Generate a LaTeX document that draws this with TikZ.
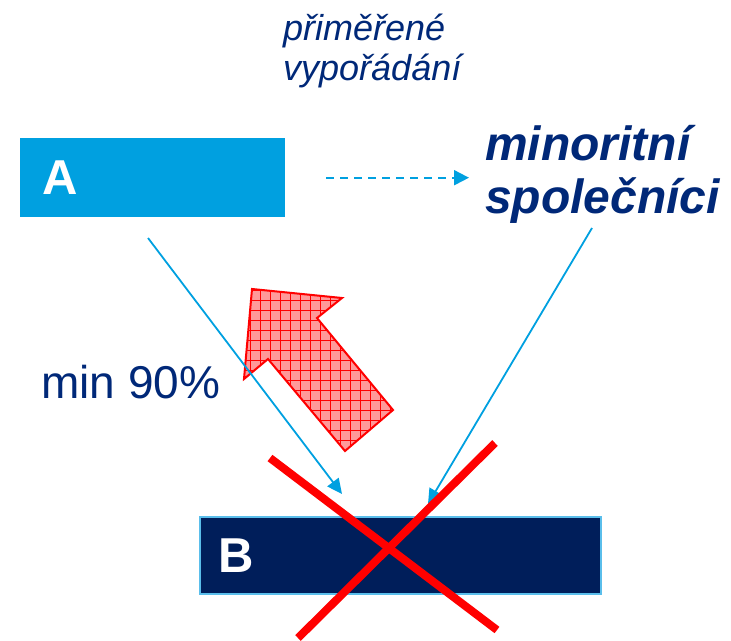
\documentclass[tikz,border=0pt]{standalone}
\usepackage{fontspec}
\setmainfont{Liberation Sans}
\usetikzlibrary{arrows.meta,patterns.meta,calc}
\definecolor{skyBlue}{RGB}{0,160,224}
\definecolor{navyBlue}{RGB}{0,30,90}
\definecolor{inkBlue}{RGB}{0,40,120}
\definecolor{edgeBlue}{RGB}{90,190,235}

\begin{document}
\begin{tikzpicture}[x=1pt,y=-1pt,
    firmbox/.style={anchor=north west,inner ysep=0pt,align=left,text=white,
        font=\bfseries\fontsize{49}{49}\selectfont},
    link/.style={skyBlue,line width=1.8pt,-{Triangle[length=15pt,width=14pt]}},
    dashlink/.style={skyBlue,line width=2pt,dash pattern=on 8pt off 6pt,
        -{Triangle[length=15pt,width=15pt]}}]
    \useasboundingbox (0,0) rectangle (731,640);

    % companies
    \node[firmbox,fill=skyBlue,minimum height=79pt,text width=221pt,inner xsep=22pt] (A) at (20,138) {A};
    \node[firmbox,fill=navyBlue,draw=edgeBlue,line width=1.5pt,minimum height=77pt,text width=363pt,inner xsep=19pt] (B) at (199,516) {B};

    % texts
    \node[anchor=base west,inner sep=0pt,align=left,text=inkBlue,
        font=\itshape\fontsize{36}{40}\selectfont] (fair) at (283,80) {přiměřené\\vypořádání};
    \node[anchor=base west,inner sep=0pt,align=left,text=inkBlue,
        font=\bfseries\itshape\fontsize{48}{53}\selectfont] (minor) at (485,213) {minoritní\\společníci};
    \node[anchor=base west,inner sep=0pt,text=inkBlue,
        font=\fontsize{46}{46}\selectfont] (share) at (41,398) {min 90\%};

    % squeeze-out arrow
    \fill[red!40] (252,289) -- (342,298) -- (317,318) -- (393,410) -- (345,451) -- (268,359) -- (244,379) -- cycle;
    \fill[pattern={Hatch[distance=10pt,angle=0,line width=0.6pt]},pattern color=red] (252,289) -- (342,298) -- (317,318) -- (393,410) -- (345,451) -- (268,359) -- (244,379) -- cycle;
    \draw[red,line width=2pt,line join=miter] (252,289) -- (342,298) -- (317,318) -- (393,410) -- (345,451) -- (268,359) -- (244,379) -- cycle;

    % connectors
    \coordinate (aFoot) at (148,238);
    \coordinate (bLeft) at (342,494);
    \coordinate (mFoot) at (592,228);
    \coordinate (bRight) at (428,504);
    \draw[dashlink,shorten <=41pt,shorten >=16pt] (A.east) -- (A.east -| minor.west);
    \draw[link] (aFoot) -- (bLeft);
    \draw[link] (mFoot) -- (bRight);

    % cross over B
    \draw[red,line width=8pt] (270,458) -- (497,630);
    \draw[red,line width=8pt] (495,443) -- (298,638);
\end{tikzpicture}
\end{document}
